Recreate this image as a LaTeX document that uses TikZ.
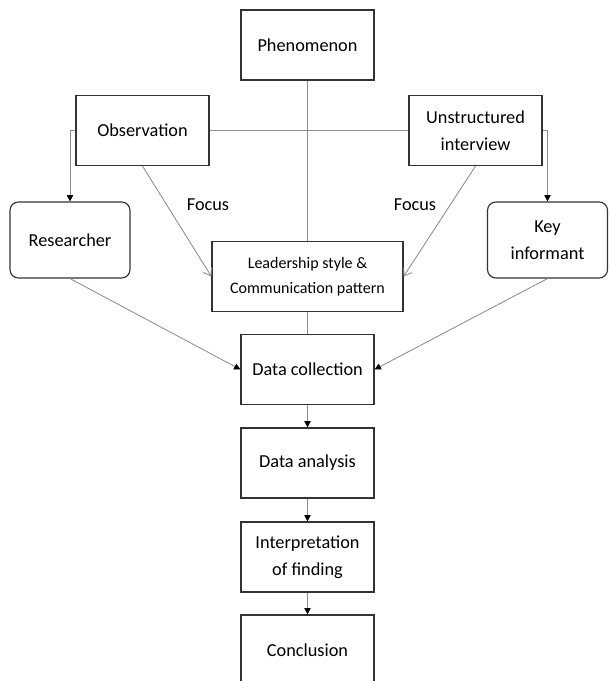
\documentclass[tikz,border=0pt]{standalone}
\usepackage{fontspec}
\setmainfont{Carlito}
\usetikzlibrary{arrows.meta}

\begin{document}
\begin{tikzpicture}[
    x=0.025cm, y=-0.025cm,
    box/.style={draw=black!80, line width=0.8pt, minimum width=3.325cm, minimum height=1.75cm, align=center, inner sep=2pt, font=\fontsize{13}{19}\selectfont},
    wide/.style={box, minimum width=4.775cm, font=\fontsize{11.4}{17.5}\selectfont},
    person/.style={box, rounded corners=6pt, minimum width=3cm, minimum height=1.9cm},
    tag/.style={font=\fontsize{13}{19}\selectfont},
    link/.style={draw=black!45, line width=0.6pt},
    flow/.style={link, -{Triangle[length=4.5pt,width=4.5pt,black]}},
    focus/.style={link, -{Straight Barb[length=5pt,width=7pt]}}
]

\useasboundingbox (0,0) rectangle (608,681);

\node[box] (phen) at (307.5,45) {Phenomenon};
\node[box] (obs) at (142.5,130.5) {Observation};
\node[box] (unstr) at (475.5,130.5) {Unstructured\\interview};
\node[person] (res) at (70,240) {Researcher};
\node[person] (key) at (547.5,240) {Key\\informant};
\node[wide] (lead) at (307.5,276.5) {Leadership style \&\\Communication pattern};
\node[box] (coll) at (307.5,369.5) {Data collection};
\node[box] (anal) at (307.5,463) {Data analysis};
\node[box] (interp) at (307.5,557) {Interpretation\\of finding};
\node[box] (concl) at (307.5,650) {Conclusion};

\node[tag] (focusL) at (208,205) {Focus};
\node[tag] (focusR) at (415,205) {Focus};

\draw[link] (phen) -- (lead);
\draw[link] (lead) -- (coll);
\draw[link] (obs) -- (unstr);
\draw[flow] (obs.west) -| (res.north);
\draw[flow] (unstr.east) -| (key.north);
\draw[focus] (obs.south) -- (lead.west);
\draw[focus] (unstr.south) -- (lead.east);
\draw[flow] (res.south) -- (coll.west);
\draw[flow] (key.south) -- (coll.east);
\draw[flow] (coll) -- (anal);
\draw[flow] (anal) -- (interp);
\draw[flow] (interp) -- (concl);

\end{tikzpicture}
\end{document}
